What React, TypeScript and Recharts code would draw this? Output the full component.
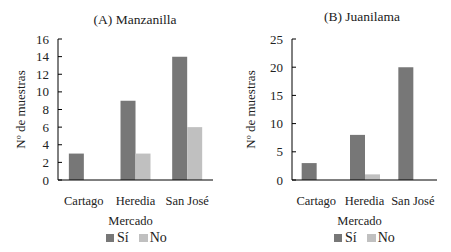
import { Bar, BarChart, Label, XAxis, YAxis } from 'recharts';

const markets = ['Cartago', 'Heredia', 'San José'];
const manzanillaSi = [3, 9, 14];
const manzanillaNo = [0, 3, 6];
const juanilamaSi = [3, 8, 20];
const juanilamaNo = [0, 1, 0];
const manzanillaTicks = [0, 2, 4, 6, 8, 10, 12, 14, 16];
const juanilamaTicks = [0, 5, 10, 15, 20, 25];

const SI = '#777777';
const NO = '#c0c0c0';
const INK = '#222222';
const FONT = '"Liberation Serif", serif';

const tick = { fill: INK, fontSize: 13, fontFamily: FONT };
const catTick = { fill: INK, fontSize: 12.5, fontFamily: FONT };

interface PanelProps {
  title: string;
  si: number[];
  no: number[];
  ticks: number[];
  width: number;
  left: number;
  yWidth: number;
  right: number;
  titleX: number;
  titleY: number;
  yLabelOffset: number;
  gap: string;
}

function Panel(p: PanelProps) {
  const data = markets.map((m, i) => ({ market: m, si: p.si[i], no: p.no[i] }));
  const max = p.ticks[p.ticks.length - 1];
  return (
    <div style={{ position: 'absolute', left: p.left, top: 0, width: p.width, height: 252 }}>
      <BarChart
        width={p.width}
        height={252}
        data={data}
        margin={{ top: 39, right: p.right, left: 0, bottom: 27 }}
        barCategoryGap={p.gap}
        barGap={0}
      >
        <XAxis
          dataKey="market"
          height={45}
          stroke="#000"
          tickLine={false}
          tick={catTick}
          tickMargin={10}
        >
          <Label
            value="Mercado"
            position="insideBottom"
            offset={0}
            dx={-5}
            style={{ fill: INK, fontSize: 12.5, fontFamily: FONT }}
          />
        </XAxis>
        <YAxis
          width={p.yWidth}
          domain={[0, max]}
          ticks={p.ticks}
          interval={0}
          stroke="#000"
          tickSize={-4}
          tickMargin={13}
          tick={tick}
        >
          <Label
            value="Nº de muestras"
            angle={-90}
            position="insideLeft"
            offset={p.yLabelOffset}
            style={{ fill: INK, fontSize: 13, fontFamily: FONT, textAnchor: 'middle' }}
          />
        </YAxis>
        <Bar dataKey="si" fill={SI} isAnimationActive={false} />
        <Bar dataKey="no" fill={NO} isAnimationActive={false} />
      </BarChart>
      <div
        style={{
          position: 'absolute',
          left: p.titleX - 80,
          width: 160,
          top: p.titleY - 9,
          textAlign: 'center',
          fontFamily: FONT,
          fontSize: 13.5,
          color: INK,
          lineHeight: '18px',
        }}
      >
        {p.title}
      </div>
    </div>
  );
}

function LegendBox({ x }: { x: number }) {
  return (
    <div
      style={{
        position: 'absolute',
        left: x,
        top: 230,
        display: 'flex',
        alignItems: 'center',
        fontFamily: FONT,
        fontSize: 14,
        color: INK,
        lineHeight: '16px',
      }}
    >
      <span style={{ width: 8, height: 8, background: SI, display: 'inline-block', marginRight: 3 }} />
      <span style={{ marginRight: 10 }}>Sí</span>
      <span style={{ width: 9, height: 8, background: NO, display: 'inline-block', marginRight: 2 }} />
      <span>No</span>
    </div>
  );
}

export default function App() {
  return (
    <div style={{ position: 'absolute', left: 0, top: 0, width: 451, height: 252, background: '#fff' }}>
      <Panel
        title="(A) Manzanilla"
        si={manzanillaSi}
        no={manzanillaNo}
        ticks={manzanillaTicks}
        width={225}
        left={0}
        yWidth={58}
        right={12}
        titleX={135}
        titleY={20}
        yLabelOffset={20}
        gap="21%"
      />
      <Panel
        title="(B) Juanilama"
        si={juanilamaSi}
        no={juanilamaNo}
        ticks={juanilamaTicks}
        width={226}
        left={225}
        yWidth={67}
        right={14}
        titleX={137}
        titleY={17}
        yLabelOffset={25}
        gap="20%"
      />
      <LegendBox x={106} />
      <LegendBox x={334} />
    </div>
  );
}
